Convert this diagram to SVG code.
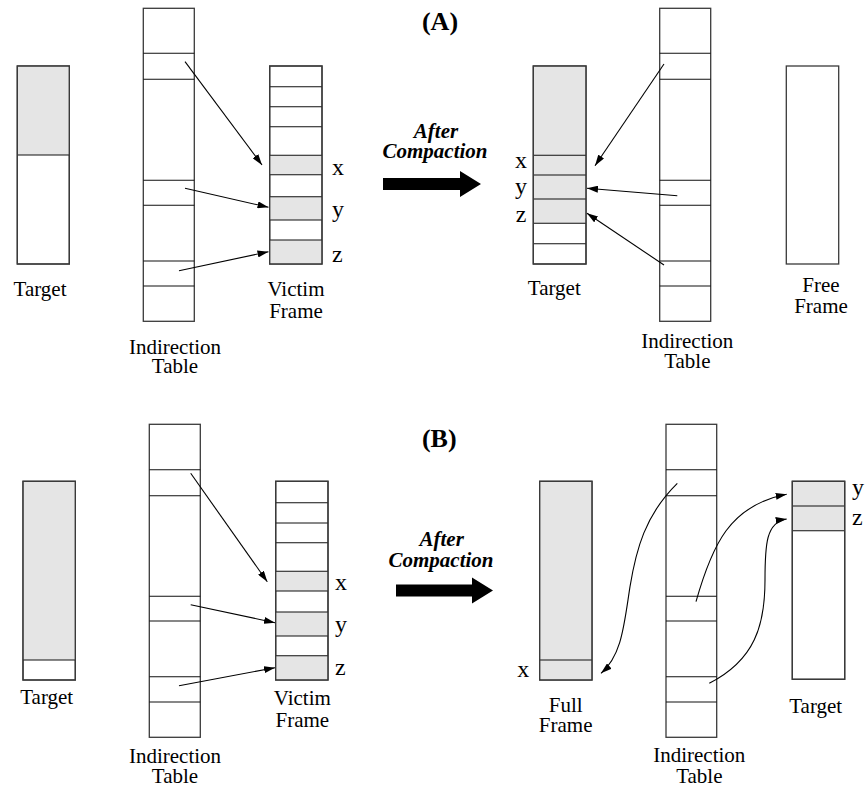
<svg xmlns="http://www.w3.org/2000/svg" width="867" height="790" viewBox="0 0 867 790">
<style>
.box{fill:#fff;stroke:#3a3a3a;stroke-width:1.3}
.gray{fill:#e5e5e5;stroke:none}
.div{stroke:#111;stroke-width:1.1;fill:none}
.lbl{font-family:"Liberation Serif","Times New Roman",serif;font-size:21px;fill:#000;text-anchor:middle}
.var{font-family:"Liberation Serif","Times New Roman",serif;font-size:24px;fill:#000}
.ttl{font-family:"Liberation Serif","Times New Roman",serif;font-size:26px;font-weight:bold;fill:#000;text-anchor:middle}
.ac{font-family:"Liberation Serif","Times New Roman",serif;font-size:21px;font-weight:bold;font-style:italic;fill:#000;text-anchor:middle}
.con{fill:none;stroke:#000;stroke-width:1.1;marker-end:url(#ah)}
</style>
<defs>
<marker id="ah" markerUnits="userSpaceOnUse" markerWidth="11" markerHeight="7" refX="11" refY="3.5" orient="auto">
<path d="M0,0 L11,3.5 L0,7 z" fill="#000"/>
</marker>
</defs>
<rect width="867" height="790" fill="#fff"/>

<!-- ===== (A) ===== -->
<text class="ttl" x="440" y="30">(A)</text>

<g id="a-target">
<rect class="box" x="17.3" y="66" width="52" height="198"/>
<rect class="gray" x="18" y="66.7" width="50.6" height="88.3"/>
<line class="div" x1="17.3" y1="155" x2="69.3" y2="155"/>
<rect class="box" x="17.3" y="66" width="52" height="198" style="fill:none"/>
<text class="lbl" x="40" y="296">Target</text>
</g>

<g id="a-indirection">
<rect class="box" x="143.3" y="8.3" width="51" height="313"/>
<path class="div" d="M143.3,53.3H194.3M143.3,79.3H194.3M143.3,180.3H194.3M143.3,205.3H194.3M143.3,261H194.3M143.3,286H194.3"/>
<text class="lbl" x="175" y="354">Indirection</text>
<text class="lbl" x="175" y="373">Table</text>
</g>

<g id="a-victim">
<rect class="box" x="269.7" y="66" width="52.3" height="198"/>
<rect class="gray" x="270.3" y="155.3" width="51" height="19.4"/>
<rect class="gray" x="270.3" y="196.7" width="51" height="23.3"/>
<rect class="gray" x="270.3" y="240" width="51" height="23.4"/>
<path class="div" d="M269.7,86.7H322M269.7,106.7H322M269.7,126.7H322M269.7,155.3H322M269.7,174.7H322M269.7,196.7H322M269.7,220H322M269.7,240H322"/>
<rect class="box" x="269.7" y="66" width="52.3" height="198" style="fill:none"/>
<text class="var" x="332" y="175">x</text>
<text class="var" x="332" y="217">y</text>
<text class="var" x="332" y="262">z</text>
<text class="lbl" x="296" y="296">Victim</text>
<text class="lbl" x="296" y="318">Frame</text>
</g>

<g id="a-after">
<text class="ac" x="436" y="138">After</text>
<text class="ac" x="435" y="158">Compaction</text>
<polygon points="383,178 460,178 460,171 481,184 460,197 460,190 383,190" fill="#000"/>
</g>

<g id="a-target2">
<rect class="box" x="533.3" y="66" width="52.7" height="198"/>
<rect class="gray" x="534" y="66.7" width="51.3" height="156.6"/>
<path class="div" d="M533.3,155.3H586M533.3,175H586M533.3,199H586M533.3,223.3H586M533.3,243.7H586"/>
<rect class="box" x="533.3" y="66" width="52.7" height="198" style="fill:none"/>
<text class="var" x="521" y="168" text-anchor="middle">x</text>
<text class="var" x="521" y="194" text-anchor="middle">y</text>
<text class="var" x="521" y="221.5" text-anchor="middle">z</text>
<text class="lbl" x="554.3" y="295">Target</text>
</g>

<g id="a-indirection2">
<rect class="box" x="659.7" y="8.3" width="51" height="313"/>
<path class="div" d="M659.7,53.3H710.7M659.7,79.3H710.7M659.7,180.3H710.7M659.7,205.3H710.7M659.7,261H710.7M659.7,286H710.7"/>
<text class="lbl" x="687.3" y="348">Indirection</text>
<text class="lbl" x="687.3" y="368">Table</text>
</g>

<g id="a-free">
<rect class="box" x="786.3" y="66" width="52.4" height="198"/>
<text class="lbl" x="821" y="292">Free</text>
<text class="lbl" x="821" y="313">Frame</text>
</g>

<!-- ===== (B) ===== -->
<text class="ttl" x="439.3" y="446.7">(B)</text>

<g id="b-target">
<rect class="box" x="23" y="481.3" width="52.3" height="198.7"/>
<rect class="gray" x="23.7" y="482" width="51" height="178"/>
<line class="div" x1="23" y1="660" x2="75.3" y2="660"/>
<rect class="box" x="23" y="481.3" width="52.3" height="198.7" style="fill:none"/>
<text class="lbl" x="46.7" y="704">Target</text>
</g>

<g id="b-indirection">
<rect class="box" x="149.3" y="424.3" width="51" height="313"/>
<path class="div" d="M149.3,469.7H200.3M149.3,495.7H200.3M149.3,596.3H200.3M149.3,621H200.3M149.3,676.7H200.3M149.3,702H200.3"/>
<text class="lbl" x="175" y="763.3">Indirection</text>
<text class="lbl" x="175" y="783.3">Table</text>
</g>

<g id="b-victim">
<rect class="box" x="275.7" y="481.3" width="52.3" height="198.7"/>
<rect class="gray" x="276.3" y="571.3" width="51" height="19.7"/>
<rect class="gray" x="276.3" y="612" width="51" height="24"/>
<rect class="gray" x="276.3" y="655.7" width="51" height="23.6"/>
<path class="div" d="M275.7,502.7H328M275.7,523H328M275.7,542.7H328M275.7,571.3H328M275.7,591H328M275.7,612H328M275.7,636H328M275.7,655.7H328"/>
<rect class="box" x="275.7" y="481.3" width="52.3" height="198.7" style="fill:none"/>
<text class="var" x="335" y="590">x</text>
<text class="var" x="335" y="631.7">y</text>
<text class="var" x="335" y="675">z</text>
<text class="lbl" x="302.3" y="705">Victim</text>
<text class="lbl" x="302.3" y="726.7">Frame</text>
</g>

<g id="b-after">
<text class="ac" x="441.7" y="545.7">After</text>
<text class="ac" x="441" y="566.7">Compaction</text>
<polygon points="396,584.5 472,584.5 472,577.5 493,590.5 472,603.5 472,596.5 396,596.5" fill="#000"/>
</g>

<g id="b-full">
<rect class="box" x="539.7" y="481.3" width="52.3" height="198.7"/>
<rect class="gray" x="540.3" y="482" width="51" height="197.3"/>
<line class="div" x1="539.7" y1="660" x2="592" y2="660"/>
<rect class="box" x="539.7" y="481.3" width="52.3" height="198.7" style="fill:none"/>
<text class="var" x="523.3" y="676.7" text-anchor="middle">x</text>
<text class="lbl" x="565.7" y="711.7">Full</text>
<text class="lbl" x="565.7" y="732.3">Frame</text>
</g>

<g id="b-indirection2">
<rect class="box" x="666" y="424.3" width="50.7" height="313"/>
<path class="div" d="M666,469.7H716.7M666,495.7H716.7M666,596.3H716.7M666,621H716.7M666,676.7H716.7M666,702H716.7"/>
<text class="lbl" x="699.3" y="761.7">Indirection</text>
<text class="lbl" x="699.3" y="782.7">Table</text>
</g>

<g id="b-target2">
<rect class="box" x="792.3" y="481.3" width="52.4" height="198"/>
<rect class="gray" x="793" y="482" width="51" height="48.7"/>
<path class="div" d="M792.3,506H844.7M792.3,530.7H844.7"/>
<rect class="box" x="792.3" y="481.3" width="52.4" height="198" style="fill:none"/>
<text class="var" x="852" y="495">y</text>
<text class="var" x="852" y="525">z</text>
<text class="lbl" x="815.7" y="713.3">Target</text>
</g>

<!-- ===== connectors ===== -->
<g id="connectors">
<line class="con" x1="185" y1="61.7" x2="262" y2="165"/>
<line class="con" x1="185" y1="188.3" x2="268.5" y2="207.3"/>
<line class="con" x1="179" y1="270.7" x2="268.5" y2="251.7"/>

<line class="con" x1="664" y1="64" x2="595" y2="165.7"/>
<line class="con" x1="677.3" y1="195.7" x2="587" y2="188.3"/>
<line class="con" x1="664" y1="265" x2="587" y2="213.3"/>

<line class="con" x1="190.7" y1="473.3" x2="267.3" y2="581.7"/>
<line class="con" x1="190.7" y1="604.7" x2="275" y2="622.7"/>
<line class="con" x1="179" y1="685.7" x2="275" y2="667.7"/>

<path class="con" d="M677.3,483.3 C645,515 636,550 630,586.7 C624,625 622,655 601,673.3"/>
<path class="con" d="M696,601.7 C712,545 730,505 786.7,494.3"/>
<path class="con" d="M709.3,683.3 C755,660 765,625 765,580 C765,545 766,522 786.7,519"/>
</g>
</svg>
